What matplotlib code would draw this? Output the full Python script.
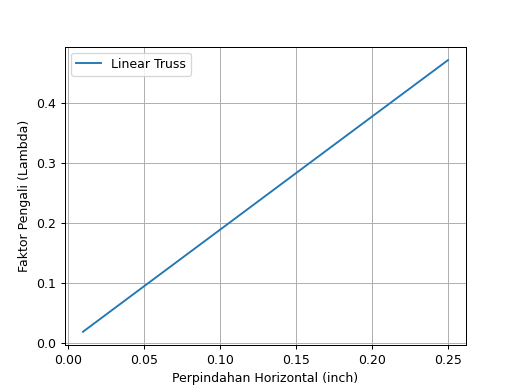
import matplotlib

matplotlib.use("Agg")

import matplotlib.pyplot as plt

# Datos
perpindahan = [0.01, 0.05, 0.10, 0.15, 0.20, 0.25]
lambda_faktor = [0.0185, 0.0942, 0.1887, 0.2833, 0.3778, 0.4722]

figura, eje = plt.subplots(figsize=(518 / 90, 388 / 90), dpi=90)

eje.plot(perpindahan, lambda_faktor, label="Linear Truss")

eje.set_xlabel("Perpindahan Horizontal (inch)")
eje.set_ylabel("Faktor Pengali (Lambda)")
eje.legend(loc="upper left")
eje.grid(True)

figura.savefig("out.png")
plt.close(figura)
